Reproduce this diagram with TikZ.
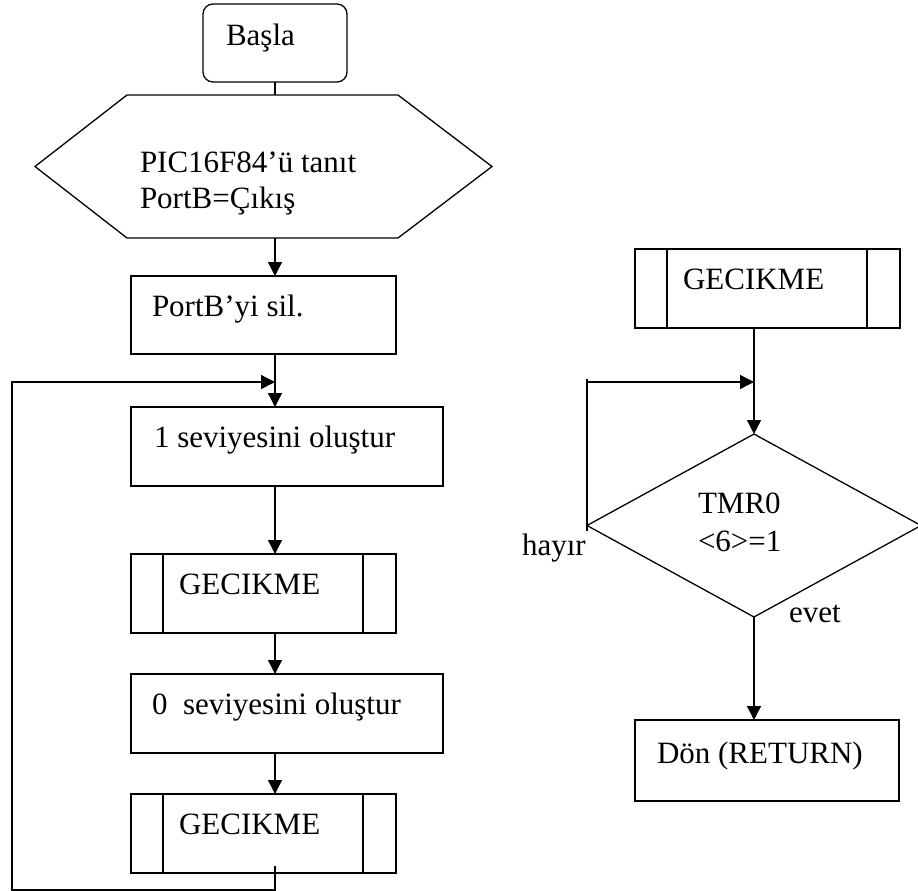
\documentclass[tikz,border=0pt]{standalone}
\usepackage{fontspec}
\setmainfont{Liberation Serif}
\usetikzlibrary{arrows.meta,shapes.geometric,calc}
\begin{document}
\begin{tikzpicture}[x=1pt,y=-1pt,
  line width=1.3pt,
  every node/.style={inner sep=0pt,outer sep=0pt},
  box/.style={draw,rectangle,minimum height=79pt},
  narrow/.style={box,minimum width=265pt},
  wide/.style={box,minimum width=312pt},
  subr/.style={narrow,path picture={
      \draw[line width=1.3pt]
        ([xshift=32pt]path picture bounding box.north west) -- ([xshift=32pt]path picture bounding box.south west)
        ([xshift=-33pt]path picture bounding box.north east) -- ([xshift=-33pt]path picture bounding box.south east);}},
  txt/.style={anchor=base west,font=\fontsize{31}{36}\selectfont},
  arr/.style={-{Triangle[length=14pt,width=14pt]}},
]
\useasboundingbox (0,0) rectangle (918,891);

% main program
\node[draw,rounded corners=10pt,minimum width=144pt,minimum height=78pt] (start) at (275,43) {};
\node[minimum width=457pt,minimum height=143pt] (init) at (263.5,166.5) {};
\draw (init.west) -- ($(init.north west)+(92,0)$) -- ($(init.north east)+(-94,0)$)
  -- (init.east) -- ($(init.south east)+(-94,0)$) -- ($(init.south west)+(92,0)$) -- cycle;
\node[narrow,minimum height=78pt] (portb) at (263.5,315) {};
\node[wide] (set1) at (287,446.5) {};
\node[subr] (g1) at (263.5,593.5) {};
\node[wide] (set0) at (287,713.5) {};
\node[subr] (g2) at (263.5,833.5) {};

\node[txt] (tstart) at (226,46) {Başla};
\node[txt] (tinit1) at (140,172) {PIC16F84’ü tanıt};
\node[txt] (tinit2) at (140,208) {PortB=Çıkış};
\node[txt] (tportb) at (152,316) {PortB’yi sil.};
\node[txt] (tset1) at (154,447) {1 seviyesini oluştur};
\node[txt] (tg1) at (179,594) {GECIKME};
\node[txt] (tset0) at (152,714) {0\hspace{0.5em}seviyesini oluştur};
\node[txt] (tg2) at (179,834) {GECIKME};

\draw (start.south) -- (start.south |- init.north);
\draw[arr] (start.south |- init.south) -- (start.south |- portb.north);
\draw[arr] (start.south |- portb.south) -- (start.south |- set1.north);
\draw[arr] (start.south |- set1.south) -- (start.south |- g1.north);
\draw[arr] (start.south |- g1.south) -- (start.south |- set0.north);
\draw[arr] (start.south |- set0.south) -- (start.south |- g2.north);

% loop back to the start of the cycle
\coordinate (l0) at (275,866);
\coordinate (lb) at (12,890);
\coordinate (lj) at (275,382);
\draw[arr] (l0) |- (lb) |- (lj);

% delay subroutine
\node[subr] (g3) at (767.5,288.5) {};
\node[draw,diamond,minimum width=334pt,minimum height=183pt] (dec) at (754,525.5) {};
\node[box,minimum width=264pt,minimum height=81pt] (ret) at (767,760.5) {};

\node[txt] (tg3) at (683,289) {GECIKME};
\node[txt] (tdec1) at (698,513) {TMR0};
\node[txt] (tdec2) at (698,551) {<6>=1};
\node[txt] (tno) at (522,555) {hayır};
\node[txt] (tyes) at (789,622) {evet};
\node[txt] (tret) at (657,763) {Dön (RETURN)};

\coordinate (rj) at (dec.north |- lj);
\draw[arr] (dec.north |- g3.south) -- (dec.north);
\draw (dec.west) ++(0,5) -- ++(0,-152);
\draw[arr] (dec.west |- rj) -- (rj);
\draw[arr] (dec.south) -- (dec.south |- ret.north);
\end{tikzpicture}
\end{document}
